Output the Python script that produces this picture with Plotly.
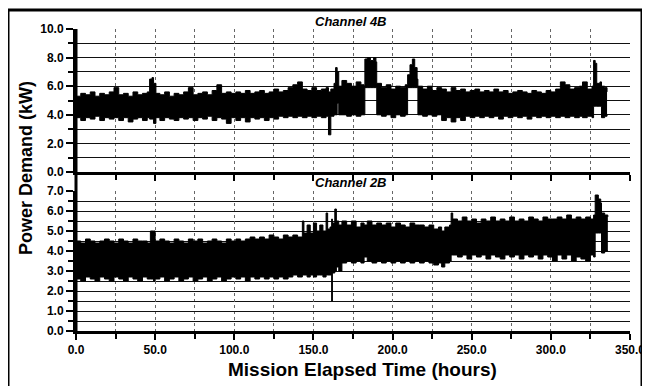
import plotly.graph_objects as go

# ---------------- data ----------------
# Channel 4B: sampled hours with lower / upper envelope of the noisy trace (kW)
hours_4b = [0, 3, 6, 9, 12, 15, 18, 21, 24, 27, 30, 33, 36, 39, 42, 45, 46.5, 48, 49, 50.5,
            53, 56, 59, 62, 65, 68, 71, 74, 77, 80, 83, 86, 89, 92, 95, 98, 101, 104, 107, 110,
            113, 116, 119, 122, 125, 128, 131, 134, 137, 140, 143, 146, 149, 152, 155, 158, 159.5, 161, 163, 164,
            165, 166, 168, 171, 174, 177, 180, 182, 182.5, 184, 186, 188, 189.5, 190, 193, 196, 199, 202, 205, 208,
            209.5, 211, 212.5, 214, 215.5, 216, 219, 222, 225, 228, 231, 234, 237, 240, 243, 246, 249, 252, 255, 258,
            261, 264, 267, 270, 273, 276, 279, 282, 285, 288, 291, 294, 297, 300, 303, 306, 309, 312, 315, 318,
            320, 323, 326, 327, 328, 329, 331, 332, 334, 335.5]
low_4b = [3.8, 3.6, 3.8, 3.7, 3.9, 3.6, 3.8, 3.7, 3.8, 3.6, 3.8, 3.5, 3.7, 3.8, 3.6, 3.8, 3.7, 3.7, 3.4, 3.8,
          3.6, 3.8, 3.7, 3.6, 3.8, 3.7, 3.8, 3.6, 3.8, 3.7, 3.9, 3.6, 3.8, 3.7, 3.4, 3.8, 3.6, 3.8, 3.5, 3.8,
          3.7, 3.8, 3.6, 3.8, 3.7, 3.9, 3.8, 3.9, 3.8, 3.9, 3.8, 3.9, 3.8, 3.9, 3.8, 3.9, 2.6, 3.9, 4.0, 4.0,
          4.8, 4.0, 4.0, 3.9, 4.0, 3.9, 4.0, 4.0, 5.9, 5.9, 5.9, 5.9, 5.9, 4.0, 3.9, 4.0, 3.8, 4.0, 3.9, 4.0,
          5.9, 5.9, 5.9, 5.9, 5.9, 4.0, 3.9, 4.0, 3.9, 4.0, 3.6, 3.8, 3.5, 3.8, 3.6, 3.9, 3.8, 3.9, 3.8, 3.9,
          3.8, 3.9, 3.7, 3.9, 3.8, 3.9, 3.8, 3.9, 3.7, 3.9, 3.8, 3.9, 3.8, 3.9, 3.8, 3.9, 3.8, 3.9, 3.8, 3.9,
          3.8, 3.9, 3.8, 4.6, 4.6, 4.6, 4.6, 3.8, 3.9, 4.0]
high_4b = [5.3, 5.5, 5.4, 5.6, 5.3, 5.5, 5.4, 5.6, 5.9, 5.4, 5.5, 5.3, 5.6, 5.4, 5.5, 5.6, 6.5, 6.6, 6.2, 5.5,
           5.4, 5.6, 5.3, 5.5, 5.4, 5.6, 5.9, 5.4, 5.5, 5.6, 5.4, 5.7, 6.1, 5.5, 5.6, 5.5, 5.6, 5.5, 5.7, 5.5,
           5.6, 5.7, 5.5, 5.6, 5.8, 5.6, 5.7, 5.9, 6.1, 6.3, 5.8, 5.7, 5.9, 5.7, 5.8, 5.9, 5.6, 5.8, 6.2, 7.3,
           7.0, 6.0, 6.4, 6.2, 6.0, 6.3, 6.1, 6.0, 7.9, 8.0, 7.8, 8.0, 7.7, 6.2, 5.9, 6.1, 5.8, 6.0, 5.9, 6.1,
           6.8, 7.5, 7.9, 7.3, 6.5, 6.0, 5.8, 6.0, 5.7, 5.9, 5.8, 5.6, 5.9, 5.7, 5.8, 5.6, 5.7, 5.8, 5.6, 5.7,
           5.6, 5.8, 5.6, 5.7, 5.5, 5.6, 5.7, 5.6, 5.5, 5.7, 5.6, 5.5, 5.7, 5.6, 5.8, 6.3, 6.1, 5.8, 5.9, 6.0,
           6.3, 5.8, 6.0, 7.8, 7.6, 6.2, 6.3, 6.0, 5.9, 5.6]

# Channel 2B
hours_2b = [0, 3, 6, 9, 12, 15, 18, 21, 24, 27, 30, 33, 36, 39, 42, 45, 47, 49, 50, 53,
            56, 59, 62, 65, 68, 71, 74, 77, 80, 83, 86, 89, 92, 95, 98, 101, 104, 107, 110, 113,
            116, 119, 122, 125, 128, 131, 134, 137, 140, 143, 144, 146, 148, 150, 152, 154, 156, 158, 159, 160.5,
            161.5, 162, 163.5, 164.5, 166, 168, 171, 174, 177, 180, 182, 184, 187, 190, 193, 196, 199, 202, 205, 208,
            211, 214, 217, 220, 223, 226, 229, 231, 233, 236, 237, 238, 241, 244, 247, 250, 253, 256, 259, 262,
            265, 268, 271, 274, 277, 280, 283, 286, 289, 292, 295, 298, 301, 304, 307, 310, 313, 316, 319, 322,
            325, 327, 328, 330, 331.5, 332, 334, 336]
low_2b = [2.6, 2.5, 2.7, 2.6, 2.5, 2.7, 2.6, 2.5, 2.7, 2.6, 2.5, 2.7, 2.6, 2.5, 2.7, 2.6, 2.6, 2.5, 2.6, 2.7,
          2.5, 2.6, 2.7, 2.5, 2.6, 2.7, 2.5, 2.6, 2.7, 2.5, 2.6, 2.7, 2.5, 2.6, 2.7, 2.6, 2.7, 2.5, 2.7, 2.6,
          2.7, 2.6, 2.7, 2.6, 2.7, 2.6, 2.7, 2.8, 2.7, 2.8, 2.8, 2.7, 2.8, 2.7, 2.8, 2.8, 2.7, 2.8, 2.8, 2.8,
          1.5, 2.9, 3.0, 3.2, 3.0, 3.4, 3.5, 3.4, 3.5, 3.4, 3.7, 3.5, 3.4, 3.5, 3.4, 3.5, 3.4, 3.5, 3.4, 3.5,
          3.4, 3.5, 3.4, 3.5, 3.4, 3.3, 3.4, 3.2, 3.4, 3.5, 3.8, 3.8, 3.7, 3.8, 3.6, 3.8, 3.7, 3.8, 3.6, 3.8,
          3.7, 3.6, 3.8, 3.7, 3.8, 3.6, 3.8, 3.7, 3.8, 3.6, 3.8, 3.7, 3.5, 3.8, 3.6, 3.8, 3.5, 3.7, 3.6, 3.5,
          3.8, 3.7, 4.9, 4.9, 4.9, 3.9, 4.0, 4.0]
high_2b = [4.5, 4.4, 4.6, 4.5, 4.4, 4.5, 4.6, 4.5, 4.4, 4.6, 4.5, 4.4, 4.6, 4.5, 4.5, 4.4, 5.0, 5.0, 4.5, 4.6,
           4.5, 4.4, 4.6, 4.5, 4.4, 4.6, 4.5, 4.6, 4.4, 4.5, 4.6, 4.5, 4.4, 4.6, 4.5, 4.6, 4.5, 4.6, 4.7, 4.6,
           4.7, 4.6, 4.8, 4.7, 4.6, 4.8, 4.7, 4.8, 4.7, 5.5, 4.9, 5.3, 4.9, 5.4, 5.0, 5.3, 5.0, 5.9, 5.1, 5.2,
           5.6, 5.4, 6.1, 5.5, 5.3, 5.5, 5.3, 5.5, 5.2, 5.4, 5.3, 5.5, 5.3, 5.4, 5.3, 5.4, 5.2, 5.4, 5.3, 5.2,
           5.4, 5.3, 5.3, 5.2, 5.3, 5.1, 5.2, 5.0, 5.2, 5.3, 5.9, 5.6, 5.5, 5.7, 5.5, 5.6, 5.4, 5.6, 5.5, 5.7,
           5.5, 5.6, 5.5, 5.7, 5.5, 5.6, 5.5, 5.7, 5.6, 5.5, 5.7, 5.6, 5.6, 5.7, 5.6, 5.8, 5.6, 5.7, 5.6, 5.7,
           5.6, 5.8, 6.8, 6.6, 6.4, 5.9, 5.8, 5.7]

x_major = [0, 50, 100, 150, 200, 250, 300, 350]
x_minor = [25, 75, 125, 175, 225, 275, 325]
y4_major = [0, 2, 4, 6, 8, 10]
y4_minor = [1, 3, 5, 7, 9]
y2_major = [0, 1, 2, 3, 4, 5, 6, 7]
y2_minor = [0.5, 1.5, 2.5, 3.5, 4.5, 5.5, 6.5]

# ---------------- figure ----------------
# the page body adds an 8 px offset, so the figure is laid out in page pixels minus 8
OFF = 8
W, H = 650 - OFF, 386 - OFF
PL, PR, PT, PB = 76, 630, 29, 331          # plot area in page pixels
L, R, T, B = PL - OFF, W - (PR - OFF), PT - OFF, H - (PB - OFF)
pw, ph = W - L - R, H - T - B


def px_x(x):
    return (x - PL) / pw


def px_y(y):
    return (PB - y) / ph


FONT = "Liberation Sans, Arial, sans-serif"

fig = go.Figure()
for hrs, lo, hi, xa, ya in [(hours_4b, low_4b, high_4b, "x2", "y2"),
                            (hours_2b, low_2b, high_2b, "x", "y")]:
    fig.add_trace(go.Scatter(x=hrs, y=lo, mode="lines", line=dict(color="black", width=1, shape="hv"),
                             xaxis=xa, yaxis=ya, showlegend=False, hoverinfo="skip"))
    fig.add_trace(go.Scatter(x=hrs, y=hi, mode="lines", line=dict(color="black", width=1, shape="hv"),
                             fill="tonexty", fillcolor="black",
                             xaxis=xa, yaxis=ya, showlegend=False, hoverinfo="skip"))

tickfont = dict(family=FONT, size=12, color="black", weight="bold")
GRIDDASH = "3px,3px"
xcommon = dict(range=[0, 350], tickvals=x_major, ticktext=[f"{v:.1f}" for v in x_major],
               ticks="outside", ticklen=6, tickwidth=1.5, tickcolor="black",
               showline=True, linecolor="black", linewidth=3,
               showgrid=True, gridcolor="#666", gridwidth=1, griddash=GRIDDASH,
               zeroline=False,
               minor=dict(tickvals=x_minor, ticks="outside", ticklen=5, tickwidth=1.5,
                          tickcolor="black", showgrid=True, gridcolor="#666", gridwidth=1,
                          griddash=GRIDDASH))

top_lo = px_y(172)
bot_hi = px_y(191)

fig.update_layout(
    width=W, height=H, margin=dict(l=L, r=R, t=T, b=B, autoexpand=False),
    paper_bgcolor="white", plot_bgcolor="white",
    xaxis=dict(domain=[0, 1], anchor="y", tickfont=tickfont, **xcommon),
    xaxis2=dict(domain=[0, 1], anchor="y2", matches="x", showticklabels=False, **xcommon),
    yaxis=dict(domain=[0, bot_hi], anchor="x", range=[0, 7], tickvals=y2_major,
               ticktext=[f"{v:.1f}" for v in y2_major], ticks="outside", ticklen=7,
               tickwidth=1.5, tickcolor="black", showline=True, linecolor="black", linewidth=3,
               showgrid=True, gridcolor="#111", gridwidth=1.2, zeroline=False, tickfont=tickfont,
               minor=dict(tickvals=y2_minor, ticks="outside", ticklen=5, tickwidth=1.5,
                          tickcolor="black", showgrid=True, gridcolor="#111", gridwidth=1.2)),
    yaxis2=dict(domain=[top_lo, 1], anchor="x2", range=[0, 10], tickvals=y4_major,
                ticktext=[f"{v:.1f}" for v in y4_major], ticks="outside", ticklen=7,
                tickwidth=1.5, tickcolor="black", showline=True, linecolor="black", linewidth=3,
                showgrid=True, gridcolor="#111", gridwidth=1.2, zeroline=False, tickfont=tickfont,
                minor=dict(tickvals=y4_minor, ticks="outside", ticklen=5, tickwidth=1.5,
                           tickcolor="black", showgrid=True, gridcolor="#111", gridwidth=1.2)),
    annotations=[
        dict(text="Channel 4B", x=px_x(351), y=px_y(22), xref="paper", yref="paper",
             showarrow=False, xanchor="center", yanchor="middle",
             font=dict(family=FONT, size=13, color="black", weight="bold", style="italic")),
        dict(text="Channel 2B", x=px_x(351), y=px_y(183), xref="paper", yref="paper",
             showarrow=False, xanchor="center", yanchor="middle",
             font=dict(family=FONT, size=13, color="black", weight="bold", style="italic")),
        dict(text="Power Demand (kW)", x=px_x(26), y=px_y(168), xref="paper", yref="paper",
             showarrow=False, xanchor="center", yanchor="middle", textangle=-90,
             font=dict(family=FONT, size=18, color="black", weight="bold")),
        dict(text="Mission Elapsed Time (hours)", x=px_x(362), y=px_y(370), xref="paper",
             yref="paper", showarrow=False, xanchor="center", yanchor="middle",
             font=dict(family=FONT, size=19, color="black", weight="bold")),
    ],
    shapes=[
        dict(type="rect", xref="paper", yref="paper", x0=px_x(8), x1=px_x(642),
             y0=px_y(400), y1=px_y(10), line=dict(color="black", width=3)),
        dict(type="line", xref="paper", yref="paper", x0=0, x1=0, y0=0, y1=1,
             line=dict(color="black", width=3)),
    ],
)

fig.write_html("out.html")
